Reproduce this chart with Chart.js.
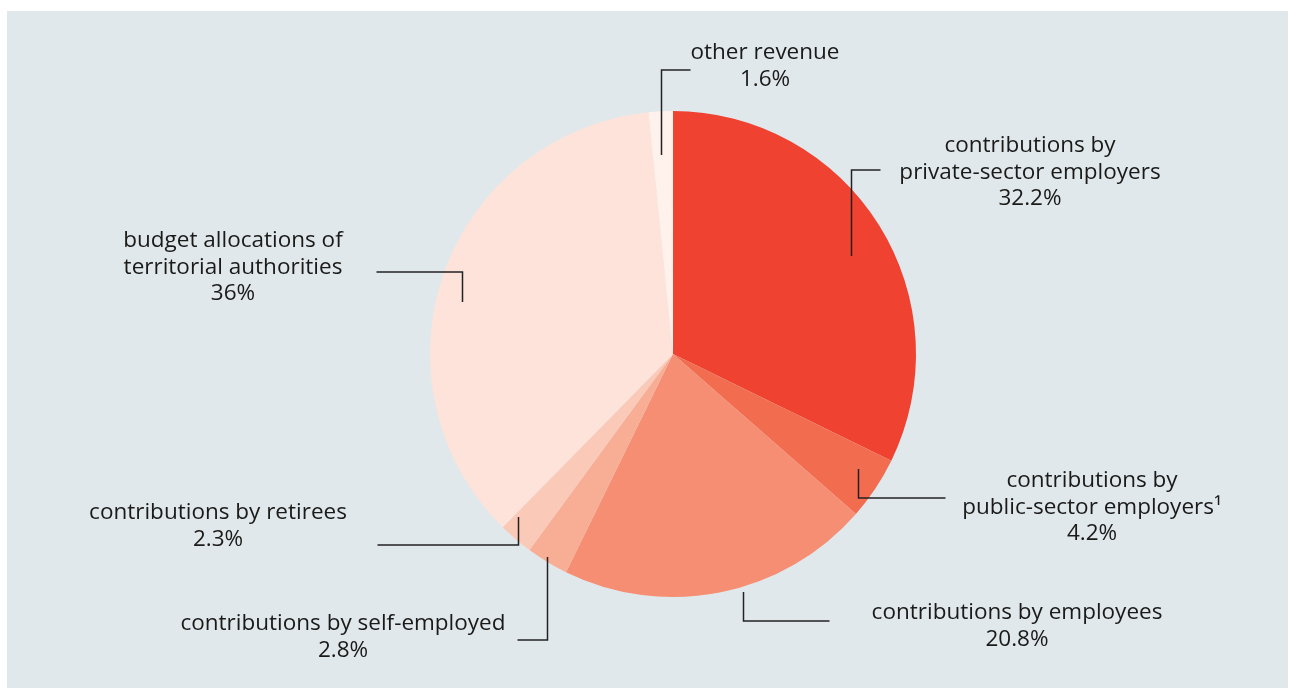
<!DOCTYPE html>
<html>
<head>
<meta charset="utf-8">
<script src="https://cdn.jsdelivr.net/npm/chart.js@4"></script>
<style>
  html, body { margin: 0; padding: 0; background: #fff; }
  #panel { position: absolute; left: 7px; top: 11px; width: 1281px; height: 677px; background: #e1e8ec; }
  #wrap { position: absolute; left: 0; top: 0; width: 1289px; height: 688px; }
</style>
</head>
<body>
<div id="panel"></div>
<div id="wrap"><canvas id="pie"></canvas></div>
<script>
// revenue shares, clockwise from 12 o'clock
const categories = [
  'contributions by\nprivate-sector employers',
  'contributions by\npublic-sector employers\u00b9',
  'contributions by employees',
  'contributions by self-employed',
  'contributions by retirees',
  'budget allocations of\nterritorial authorities',
  'other revenue'
];
const shares = [32.2, 4.2, 20.8, 2.8, 2.3, 36, 1.6];
const colors = ['#ef4231', '#f26c50', '#f58e72', '#f8ae95', '#fbc9b7', '#fde3d9', '#fff1eb'];

// where each callout sits: point inside slice (fraction of angle / radius),
// elbow leg lengths, text centre x and first baseline
const callouts = [
  { af: 0.526, rf: 0.835, dy: -86, dx: 29,   tx: 1030, ty: 152 },
  { af: 0.387, rf: 0.897, dy: 29,  dx: 87,   tx: 1092, ty: 487 },
  { af: 0.433, rf: 1.02,  dy: 29,  dx: 86,   tx: 1017, ty: 619 },
  { af: 0.56,  rf: 0.983, dy: 83,  dx: -30,  tx: 343,  ty: 630 },
  { af: 0.9,   rf: 0.926, dy: 28,  dx: -141, tx: 218,  ty: 519 },
  { af: 0.457, rf: 0.893, dy: -30, dx: -86,  tx: 233,  ty: 247 },
  { af: 0.39,  rf: 0.82,  dy: -85, dx: 29,   tx: 765,  ty: 59 }
];

const calloutPlugin = {
  id: 'callouts',
  afterDatasetsDraw(chart) {
    const ctx = chart.ctx;
    const arcs = chart.getDatasetMeta(0).data;
    ctx.save();
    arcs.forEach((arc, i) => {
      const c = callouts[i];
      const a = arc.startAngle + c.af * (arc.endAngle - arc.startAngle);
      const px = Math.round(arc.x + arc.outerRadius * c.rf * Math.cos(a)) + 0.5;
      const py = Math.round(arc.y + arc.outerRadius * c.rf * Math.sin(a));
      ctx.strokeStyle = '#222';
      ctx.lineWidth = 1.5;
      ctx.beginPath();
      ctx.moveTo(px, py);
      ctx.lineTo(px, py + c.dy);
      ctx.lineTo(px + c.dx, py + c.dy);
      ctx.stroke();

      const lines = categories[i].split('\n').concat([shares[i] + '%']);
      ctx.fillStyle = '#1a1a18';
      ctx.font = '22.5px "Open Sans", "Noto Sans", sans-serif';
      ctx.textAlign = 'center';
      ctx.textBaseline = 'alphabetic';
      lines.forEach((t, k) => ctx.fillText(t, c.tx, c.ty + k * 26.6));
    });
    ctx.restore();
  }
};

new Chart(document.getElementById('pie').getContext('2d'), {
  type: 'pie',
  data: {
    labels: categories,
    datasets: [{
      data: shares,
      backgroundColor: colors,
      borderWidth: 0
    }]
  },
  options: {
    responsive: true,
    maintainAspectRatio: false,
    animation: false,
    layout: { padding: { top: 111, bottom: 91, left: 430, right: 373 } },
    plugins: {
      legend: { display: false },
      tooltip: { enabled: false }
    }
  },
  plugins: [calloutPlugin]
});
</script>
</body>
</html>
